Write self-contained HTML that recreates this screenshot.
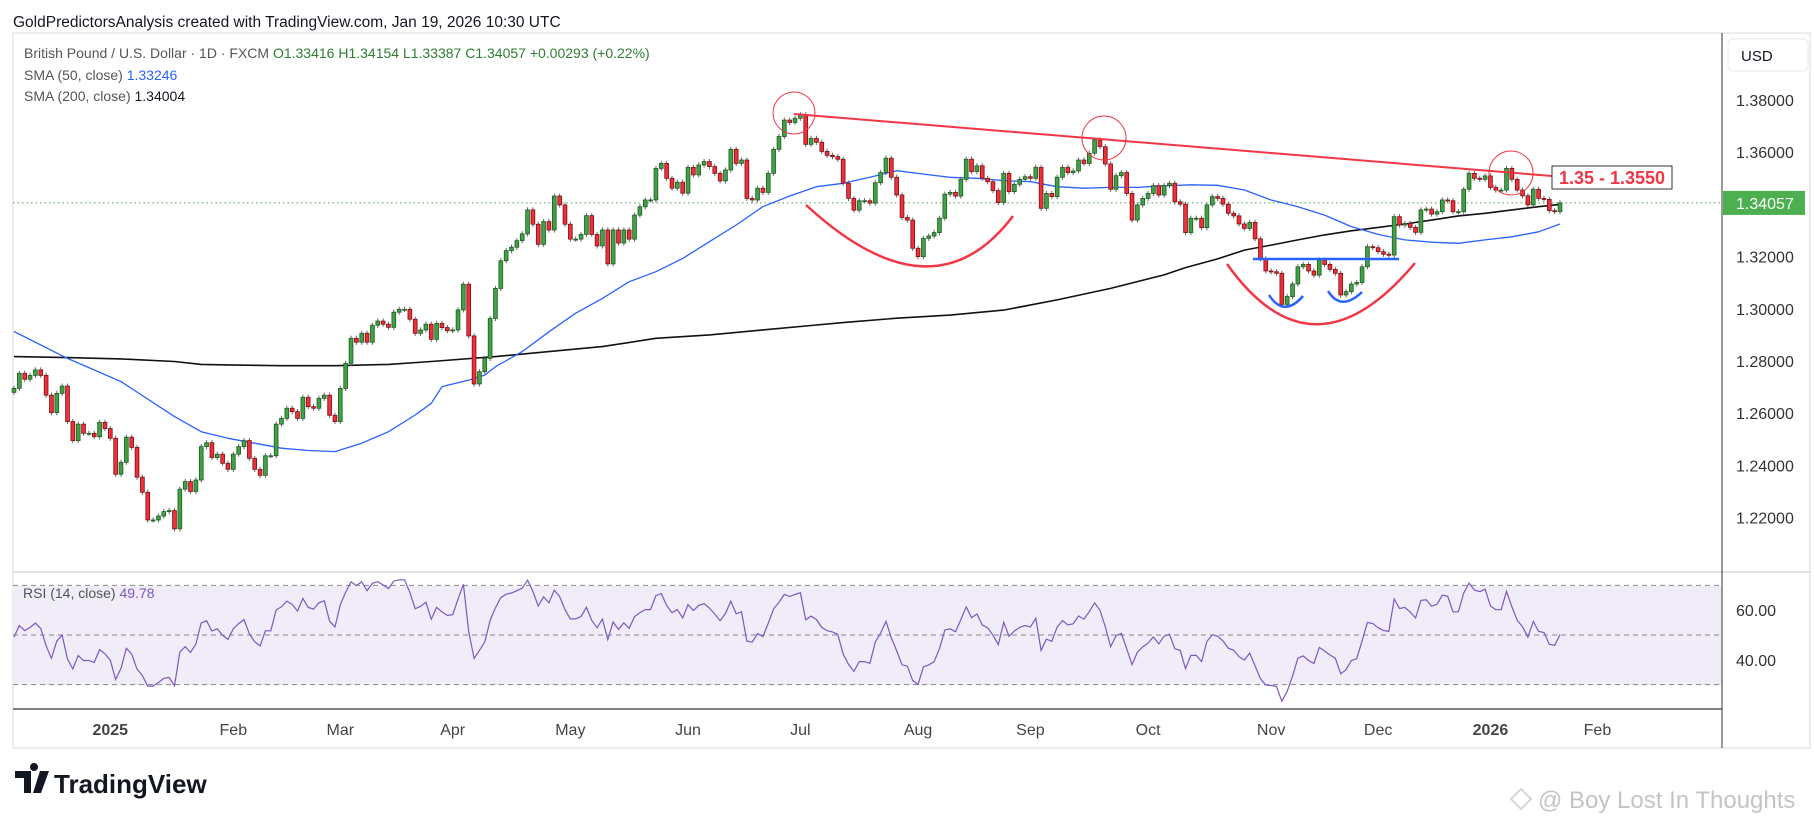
<!DOCTYPE html>
<html><head><meta charset="utf-8">
<style>
html,body{margin:0;padding:0;background:#fff;}
svg{display:block;font-family:"Liberation Sans",Arial,sans-serif;}
</style></head>
<body>
<svg id="chart" width="1814" height="824" viewBox="0 0 1814 824" xmlns="http://www.w3.org/2000/svg">
  <rect x="0" y="0" width="1814" height="824" fill="#ffffff"/>
  <text x="13" y="27" font-size="15.5" fill="#131722">GoldPredictorsAnalysis created with TradingView.com, Jan 19, 2026 10:30 UTC</text>
  <rect x="13" y="33" width="1797" height="715" fill="none" stroke="#e6e6e6" stroke-width="1.5"/>
  <rect x="13" y="586" width="1709" height="99" fill="#f0ecf8"/>
  <line x1="13" y1="572" x2="1810" y2="572" stroke="#d9d9d9" stroke-width="1.5"/>
  <line x1="13" y1="709" x2="1722" y2="709" stroke="#555" stroke-width="1.5"/>
  <line x1="1722" y1="33" x2="1722" y2="748" stroke="#555" stroke-width="1.2"/>
  <g id="grid"></g>
  <g id="lines"></g>
  <g id="candles"></g>
  <g id="annot"></g>
  <g id="axes"></g>
  <g>
    <text x="24" y="58" font-size="14" fill="#555">British Pound / U.S. Dollar · 1D · FXCM <tspan fill="#2e7d32">O1.33416  H1.34154  L1.33387  C1.34057  +0.00293 (+0.22%)</tspan></text>
    <text x="24" y="80" font-size="14" fill="#555">SMA (50, close) <tspan fill="#2962ff">1.33246</tspan></text>
    <text x="24" y="101" font-size="14" fill="#555">SMA (200, close) <tspan fill="#131722">1.34004</tspan></text>
    <text x="23" y="598" font-size="14" fill="#555">RSI (14, close) <tspan fill="#7e57c2">49.78</tspan></text>
  </g>
  <g>
    <rect x="1728" y="39" width="80" height="32" rx="5" fill="#fff" stroke="#e8e8e8"/>
    <text x="1741" y="61" font-size="15" fill="#131722">USD</text>
  </g>
  <g>
    <path d="M15 771 h16 v22 h-7 v-15 h-9z M34 771 a4 4 0 1 1 0.01 0z M40 771 h9 l-8 22 h-8z" fill="#131722"/>
    <text x="54" y="793" font-size="26" font-weight="bold" fill="#131722">TradingView</text>
  </g>
  <g>
    <path d="M1521 789 l10 10 l-10 10 l-10 -10z" fill="none" stroke="#d6d6d6" stroke-width="2"/>
    <text x="1538" y="808" font-size="24" fill="#c4c4c4">@ Boy Lost In Thoughts</text>
  </g>
</svg>
<script>
const closes = [
1.2695,1.2753,1.2730,1.2745,1.2766,1.2745,1.2669,1.2602,1.2676,1.2704,
1.2568,1.2495,1.2558,1.2523,1.2523,1.2510,1.2565,1.2541,1.2504,1.2366,
1.2412,1.2508,1.2469,1.2355,1.2297,1.2191,1.2191,1.2206,1.2223,1.2227,
1.2157,1.2309,1.2338,1.2300,1.2344,1.2472,1.2487,1.2430,1.2443,1.2408,
1.2385,1.2443,1.2472,1.2495,1.2427,1.2385,1.2362,1.2437,1.2437,1.2558,
1.2580,1.2619,1.2606,1.2580,1.2661,1.2625,1.2619,1.2657,1.2669,1.2592,
1.2568,1.2695,1.2791,1.2887,1.2872,1.2906,1.2872,1.2937,1.2953,1.2941,
1.2929,1.2987,1.2998,1.2998,1.2960,1.2906,1.2919,1.2941,1.2883,
1.2944,1.2928,1.2916,1.2919,1.2996,1.3094,1.2896,1.2712,1.2759,1.2810,
1.2963,1.3078,1.3184,1.3223,1.3236,1.3261,1.3287,1.3379,1.3324,1.3247,
1.3334,1.3302,1.3432,1.3398,1.3324,1.3267,1.3267,1.3285,1.3357,1.3285,
1.3241,1.3302,1.3172,1.3302,1.3252,1.3302,1.3267,1.3359,1.3391,1.3417,
1.3417,1.3538,1.3557,1.3500,1.3462,1.3485,1.3443,1.3542,1.3513,1.3551,
1.3564,1.3545,1.3519,1.3490,1.3532,1.3611,1.3557,1.3570,1.3423,1.3417,
1.3462,1.3446,1.3519,1.3611,1.3660,1.3723,1.3714,1.3730,1.3743,1.3630,
1.3653,1.3638,1.3603,1.3588,1.3583,1.3573,
1.3481,1.3423,1.3378,1.3414,1.3414,1.3405,1.3483,1.3522,1.3577,1.3504,
1.3436,1.3350,1.3340,1.3232,1.3200,1.3270,1.3279,1.3292,1.3347,1.3439,
1.3446,1.3432,1.3496,1.3573,1.3526,1.3548,1.3500,1.3487,1.3453,1.3407,
1.3519,1.3449,1.3477,1.3496,1.3506,1.3500,1.3542,1.3385,1.3442,1.3430,
1.3504,1.3542,1.3522,1.3528,1.3570,1.3557,1.3596,1.3647,1.3621,1.3555,
1.3458,1.3510,1.3522,1.3442,1.3340,1.3398,1.3423,1.3442,1.3472,1.3436,
1.3472,1.3481,1.3410,1.3401,
1.3292,1.3347,1.3347,1.3311,1.3398,1.3430,1.3423,1.3401,1.3366,1.3356,
1.3325,1.3308,1.3331,1.3268,1.3191,1.3145,1.3142,1.3136,1.3017,1.3047,
1.3095,1.3161,1.3170,1.3145,1.3129,1.3187,1.3170,1.3151,1.3136,1.3053,
1.3066,1.3095,1.3101,1.3161,1.3238,1.3234,1.3219,1.3209,1.3206,1.3353,
1.3321,1.3327,1.3312,1.3293,1.3379,1.3382,1.3363,1.3372,1.3417,1.3414,
1.3372,1.3372,1.3458,1.3519,1.3500,1.3496,1.3509,1.3465,1.3455,1.3455,
1.3538,1.3496,1.3455,1.3433,1.3398,1.3458,1.3423,1.3419,1.3376,1.3372,
1.3406];
const firstOpen = 1.2680;
const sma50Idx = [0,10,20,30,35,40,45,50,55,60,65,70,75,78,80,85,88,90,95,100,105,110,115,120,125,130,135,140,145,150,155,160,165,170,175,180,185,190,195,200,205,210,215,220,225,230,235,240,245,250,255,260,265,270,275,280,285,289];
const sma50Val = [1.2913,1.2810,1.2721,1.2587,1.2529,1.2504,1.2485,1.2466,1.2457,1.2453,1.2485,1.2529,1.2593,1.2638,1.2702,1.2727,1.2746,1.2778,1.2836,1.2912,1.2983,1.3040,1.3104,1.3142,1.3193,1.3257,1.3321,1.3391,1.3432,1.3468,1.3481,1.3504,1.3529,1.3516,1.3504,1.3500,1.3491,1.3487,1.3468,1.3462,1.3465,1.3465,1.3471,1.3475,1.3473,1.3455,1.3417,1.3391,1.3359,1.3315,1.3285,1.3264,1.3255,1.3251,1.3264,1.3276,1.3295,1.3325];
const sma200Idx = [0,10,20,30,35,40,50,60,70,78,90,100,110,120,130,140,150,155,165,175,185,195,205,215,219,225,230,235,240,245,250,255,260,265,270,275,280,285,289];
const sma200Val = [1.2817,1.2813,1.2808,1.2798,1.2787,1.2785,1.2782,1.2782,1.2787,1.2798,1.2817,1.2836,1.2855,1.2887,1.2900,1.2919,1.2938,1.2947,1.2964,1.2976,1.2995,1.3034,1.3078,1.3130,1.3158,1.3191,1.3225,1.3244,1.3264,1.3283,1.3299,1.3312,1.3325,1.3340,1.3356,1.3366,1.3379,1.3391,1.3400];
const priceTicks = [1.38,1.36,1.32,1.30,1.28,1.26,1.24,1.22];
const rsiTicks = [60,40];
const monthLabels = ["2025","Feb","Mar","Apr","May","Jun","Jul","Aug","Sep","Oct","Nov","Dec","2026","Feb"];
const monthIdx = [18,41,61,82,104,126,147,169,190,212,235,255,276,296];
const lastPrice = 1.34057;

const NS="http://www.w3.org/2000/svg";
const X0=14, XN=1560;
const W=(XN-X0)/(closes.length-1);
const xAt=i=>X0+i*W;
const yP=p=>100+(1.38-p)*2610;
const yR=r=>635-(r-50)*2.48;
function mk(tag,attrs,parent){const e=document.createElementNS(NS,tag);for(const k in attrs)e.setAttribute(k,attrs[k]);parent.appendChild(e);return e;}
const gGrid=document.getElementById('grid'),gL=document.getElementById('lines'),gC=document.getElementById('candles'),gA=document.getElementById('annot'),gX=document.getElementById('axes');

[70,50,30].forEach(v=>{const l=mk('line',{x1:13,x2:1722,y1:yR(v),y2:yR(v),stroke:'#888','stroke-dasharray':'5,4','stroke-width':1},gGrid);

});
const cp=mk('line',{x1:13,x2:1722,y1:yP(lastPrice),y2:yP(lastPrice),stroke:'#43a047','stroke-dasharray':'1.5,3','stroke-width':1},gGrid);



function poly(idx,val,color,w,name){const pts=idx.map((i,k)=>xAt(i).toFixed(1)+','+yP(val[k]).toFixed(1)).join(' ');
const p=mk('polyline',{points:pts,fill:'none',stroke:color,'stroke-width':w,'stroke-linejoin':'round'},gL);

}
poly(sma200Idx,sma200Val,'#111',1.6,'sma200-line');
poly(sma50Idx,sma50Val,'#2962ff',1.3,'sma50-line');

closes.forEach((c,i)=>{
  const o=i===0?firstOpen:closes[i-1];
  const up=c>=o;
  const hi=Math.max(o,c)+0.0010, lo=Math.min(o,c)-0.0010;
  const x=xAt(i);
  const g=mk('g',{},gC);
  
  
  mk('line',{x1:x,x2:x,y1:yP(hi),y2:yP(lo),stroke:'#666','stroke-width':1},g);
  const yt=yP(Math.max(o,c)), yb=yP(Math.min(o,c));
  mk('rect',{x:x-1.9,y:yt,width:3.8,height:Math.max(1,yb-yt),fill:up?'#43a047':'#ef2f3c',stroke:up?'#1b5e20':'#7a1010','stroke-width':0.8},g);
});

let ag=0.0022, al=0.0024; const rsi=[];
closes.forEach((c,i)=>{const o=i===0?firstOpen:closes[i-1];const d=c-o;
ag=(ag*13+Math.max(d,0))/14; al=(al*13+Math.max(-d,0))/14; rsi.push(100-100/(1+ag/al));});
const rl=mk('polyline',{points:rsi.map((r,i)=>xAt(i).toFixed(1)+','+yR(r).toFixed(1)).join(' '),fill:'none',stroke:'#7e57c2','stroke-width':1.2},gL);



priceTicks.forEach(p=>{const t=mk('text',{x:1736,y:yP(p)+6,'font-size':16,fill:'#333'},gX);t.textContent=p.toFixed(5);

});
rsiTicks.forEach(r=>{const t=mk('text',{x:1736,y:yR(r)+6,'font-size':16,fill:'#333'},gX);t.textContent=r.toFixed(2);

});
monthLabels.forEach((m,k)=>{const t=mk('text',{x:xAt(monthIdx[k]),y:735,'font-size':16,fill:'#444','text-anchor':'middle','font-weight':(m.length===4&&m[0]==='2')?'bold':'normal'},gX);t.textContent=m;

});
const pb=mk('rect',{x:1723,y:yP(lastPrice)-12,width:82,height:24,fill:'#4caf50'},gX);


const pt=mk('text',{x:1736,y:yP(lastPrice)+6,'font-size':16,fill:'#fff'},gX);pt.textContent=lastPrice.toFixed(5);



function shape(tag,attrs,name){const e=mk(tag,attrs,gA);

return e;}
shape('line',{x1:794,y1:114,x2:1552,y2:176,stroke:'#f23645','stroke-width':2},'resistance-trendline');
shape('circle',{cx:794,cy:113,r:21,fill:'none',stroke:'#f23645','stroke-width':1},'peak-circle-1');
shape('circle',{cx:1104,cy:138,r:22,fill:'none',stroke:'#f23645','stroke-width':1},'peak-circle-2');
shape('circle',{cx:1511,cy:173,r:22,fill:'none',stroke:'#f23645','stroke-width':1},'peak-circle-3');
shape('path',{d:'M806 205 Q933 322 1013 216',fill:'none',stroke:'#f23645','stroke-width':2.5},'cup-arc-1');
shape('path',{d:'M1227 264 Q1313 385 1415 263',fill:'none',stroke:'#f23645','stroke-width':2.5},'cup-arc-2');
shape('path',{d:'M1269 295 Q1284 318 1303 296',fill:'none',stroke:'#2962ff','stroke-width':2.5},'double-bottom-arc-1');
shape('path',{d:'M1328 291 Q1341 312 1362 292',fill:'none',stroke:'#2962ff','stroke-width':2.5},'double-bottom-arc-2');
shape('line',{x1:1253,y1:259,x2:1399,y2:259,stroke:'#2962ff','stroke-width':2.5},'neckline');
shape('rect',{x:1552,y:166,width:120,height:23,fill:'#fff',stroke:'#333','stroke-width':1},'target-zone-box');
const tt=mk('text',{x:1612,y:184,'font-size':18,'font-weight':'bold',fill:'#f23645','text-anchor':'middle'},gA);tt.textContent='1.35 - 1.3550';


</script>
</body></html>
